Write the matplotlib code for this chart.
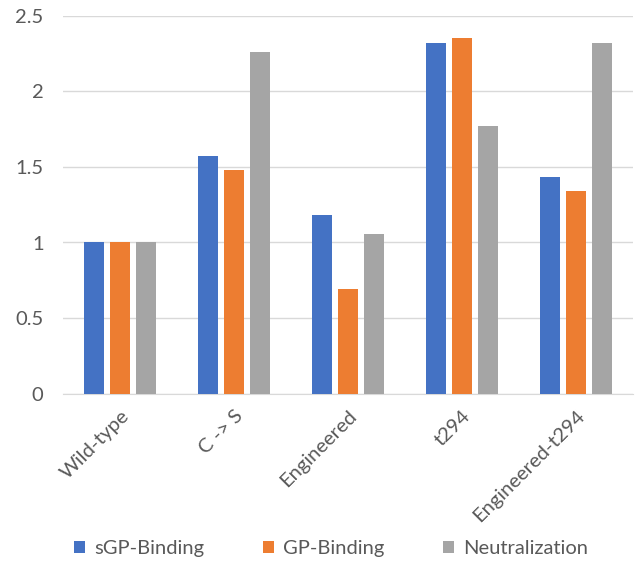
import matplotlib.pyplot as plt
import numpy as np

categories = ['Wild-type', 'C -> S', 'Engineered', 't294', 'Engineered-t294']
sgp_binding = [1.0, 1.574, 1.182, 2.317, 1.435]
gp_binding = [1.0, 1.481, 0.694, 2.35, 1.339]
neutralization = [1.0, 2.26, 1.054, 1.772, 2.32]
series_names = ['sGP-Binding', 'GP-Binding', 'Neutralization']
colors = ['#4472C4', '#ED7D31', '#A5A5A5']

plt.rcParams['font.family'] = ['Lato', 'DejaVu Sans']
text_color = '#595959'

fig = plt.figure(figsize=(6.37, 5.61), dpi=100)
ax = fig.add_axes([63/637, 1 - 393.7/561, 570/637, 378/561])

x = np.arange(len(categories))
width = 0.175
step = 0.224
for i, (vals, name) in enumerate(zip([sgp_binding, gp_binding, neutralization], series_names)):
    ax.bar(x + (i - 1) * step, vals, width, color=colors[i], label=name, zorder=3)

ax.set_xlim(-0.5, len(categories) - 0.5)
ax.set_ylim(0, 2.5)
ax.set_yticks([0, 0.5, 1, 1.5, 2, 2.5])
ax.set_yticklabels(['0', '0.5', '1', '1.5', '2', '2.5'])
ax.set_xticks(x)
ax.set_xticklabels(categories, rotation=45, ha='right', rotation_mode='anchor')

ax.grid(axis='y', color='#D9D9D9', linewidth=1, zorder=0)
for s in ['top', 'right', 'left']:
    ax.spines[s].set_visible(False)
ax.spines['bottom'].set_color('#D9D9D9')
ax.tick_params(length=0, colors=text_color, labelsize=14.5)
ax.tick_params(axis='y', pad=14)
ax.tick_params(axis='x', pad=10)

fig.legend(loc='lower center', bbox_to_anchor=(0.52, -0.025), ncol=3, frameon=False,
           fontsize=14.5, labelcolor=text_color, handlelength=0.55, handleheight=0.55,
           handletextpad=0.45, columnspacing=2.9)

fig.savefig('out.png', dpi=100, facecolor='white')
